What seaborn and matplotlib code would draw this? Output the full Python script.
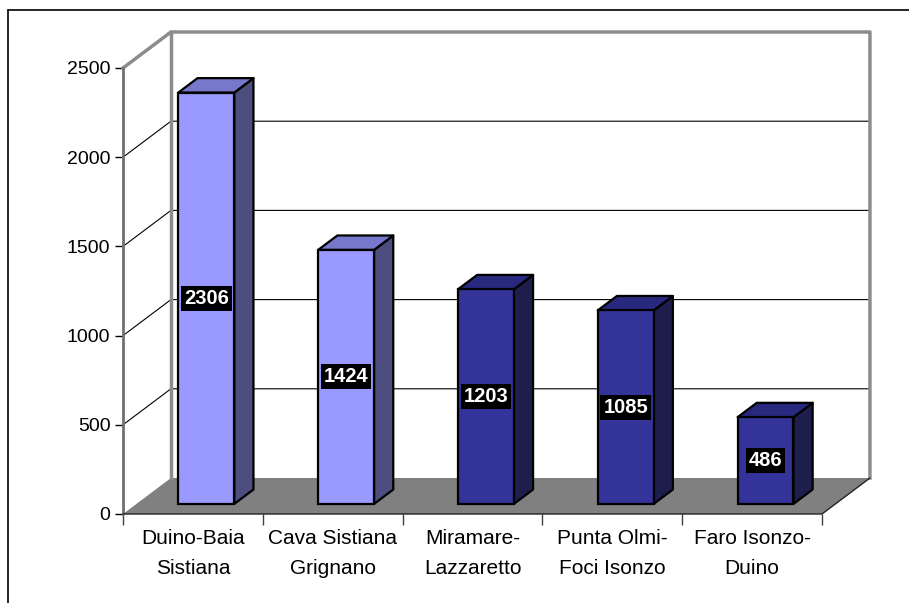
import matplotlib
matplotlib.use("Agg")
import matplotlib.pyplot as plt
from matplotlib.patches import Polygon
from matplotlib.lines import Line2D
import seaborn as sns
import pandas as pd

# ---- data ----
categories = ["Duino-Baia\nSistiana", "Cava Sistiana\nGrignano", "Miramare-\nLazzaretto",
              "Punta Olmi-\nFoci Isonzo", "Faro Isonzo-\nDuino"]
values = [2306, 1424, 1203, 1085, 486]
front_colors = ["#9999FF", "#9999FF", "#333399", "#333399", "#333399"]
top_colors = ["#7777CC", "#7777CC", "#28287F", "#28287F", "#28287F"]
side_colors = ["#4D4D80", "#4D4D80", "#1E1E4D", "#1E1E4D", "#1E1E4D"]
y_ticks = [0, 500, 1000, 1500, 2000, 2500]

sns.set_theme(style="white")
plt.rcParams["font.family"] = ["Liberation Sans", "DejaVu Sans"]

W, H = 909, 603
fig = plt.figure(figsize=(W / 100, H / 100), dpi=100)
ax = fig.add_axes([123 / W, (H - 514) / H, (822 - 123) / W, (514 - 68) / H])

# oblique projection: full depth offset of the chart box, in data units
DX, DY = 0.343, 201.8
F0, F1 = 0.28, 0.68          # front / back depth of the columns
XMIN, XMAX = -0.5, len(categories) - 0.5
YMAX = y_ticks[-1]


def proj(x, y, d):
    return (x + DX * d, y + DY * d)


def poly(pts, **kw):
    ax.add_patch(Polygon([proj(*p) for p in pts], closed=True, clip_on=False, **kw))


def line(pts, **kw):
    xs, ys = zip(*[proj(*p) for p in pts])
    ax.add_line(Line2D(xs, ys, clip_on=False, **kw))


# columns: front faces from seaborn
df = pd.DataFrame({"site": categories, "count": values})
sns.barplot(data=df, x="site", y="count", hue="site", palette=front_colors,
            width=0.4, legend=False, ax=ax, edgecolor="black", linewidth=1.6,
            saturation=1)
bars = [b for c in ax.containers for b in c]

# walls and floor
poly([(XMIN, 0, 1), (XMAX, 0, 1), (XMAX, YMAX, 1), (XMIN, YMAX, 1)], fc="white", ec="none", zorder=0.5)
poly([(XMIN, 0, 0), (XMIN, 0, 1), (XMIN, YMAX, 1), (XMIN, YMAX, 0)], fc="white", ec="none", zorder=0.5)

for t in y_ticks[1:-1]:
    line([(XMIN, t, 0), (XMIN, t, 1), (XMAX, t, 1)], color="black", lw=0.8, zorder=0.8)

poly([(XMIN, 0, 0), (XMAX, 0, 0), (XMAX, 0, 1), (XMIN, 0, 1)], fc="#808080", ec="none", zorder=0.9)

wall_edge = dict(color="#8C8C8C", lw=2.5, solid_capstyle="projecting", zorder=0.95)
line([(XMIN, YMAX, 0), (XMIN, YMAX, 1), (XMAX, YMAX, 1), (XMAX, 0, 1)], **wall_edge)
line([(XMIN, 0, 1), (XMIN, YMAX, 1)], **wall_edge)

# front axis lines
line([(XMIN, 0, 0), (XMIN, YMAX, 0)], color="#707070", lw=2, zorder=3)
line([(XMIN, 0, 0), (XMAX, 0, 0), (XMAX, 0, 1)], color="#222222", lw=1, zorder=3)

# sides, tops and value labels of the columns
for i, (p, v) in enumerate(zip(bars, values)):
    x0, w = p.get_x(), p.get_width()
    p.set_x(x0 + DX * F0)
    p.set_y(DY * F0)
    p.set_height(v)
    p.set_zorder(2.2)
    p.set_clip_on(False)
    poly([(x0 + w, 0, F0), (x0 + w, 0, F1), (x0 + w, v, F1), (x0 + w, v, F0)],
         fc=side_colors[i], ec="black", lw=1.6, joinstyle="round", zorder=2)
    poly([(x0, v, F0), (x0 + w, v, F0), (x0 + w, v, F1), (x0, v, F1)],
         fc=top_colors[i], ec="black", lw=1.6, joinstyle="round", zorder=2.1)
    cx, cy = proj(x0 + w / 2, v / 2, F0)
    ax.text(cx, cy, str(v), ha="center", va="center", color="white",
            fontsize=14.5, fontweight="bold", zorder=4,
            bbox=dict(boxstyle="square,pad=0.15", fc="black", ec="none"))

# axes, ticks and labels
ax.set_xlim(XMIN, XMAX)
ax.set_ylim(0, YMAX)
for s in ax.spines.values():
    s.set_visible(False)
ax.set_xlabel("")
ax.set_ylabel("")
ax.set_yticks(y_ticks)
ax.set_yticklabels([str(t) for t in y_ticks])
ax.tick_params(axis="y", left=True, length=6, width=1, color="black", pad=3,
               labelsize=14, labelcolor="black")
ax.set_xticks(range(len(categories)))
ax.set_xticklabels(categories, linespacing=1.7)
ax.set_xticks([XMIN + k for k in range(len(categories) + 1)], minor=True)
ax.tick_params(axis="x", which="major", bottom=True, length=0, pad=11,
               labelsize=15, labelcolor="black")
ax.tick_params(axis="x", which="minor", bottom=True, length=8, width=1, color="#404040")
ax.patch.set_alpha(0)

# outer frame
fig.add_artist(Line2D([8 / W, 8 / W], [0, 1 - 10 / H], color="black", lw=1.2))
fig.add_artist(Line2D([8 / W, 1], [1 - 10 / H, 1 - 10 / H], color="black", lw=1.2))

fig.savefig("out.png", dpi=100)
